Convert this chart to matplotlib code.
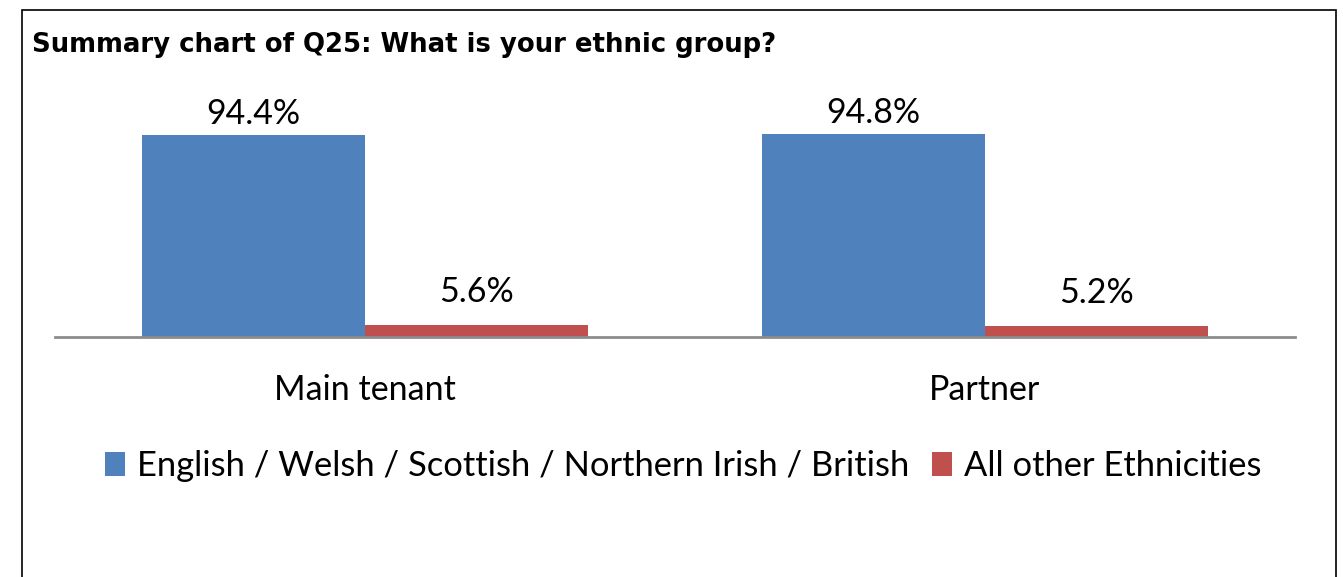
import matplotlib
matplotlib.use("Agg")
import matplotlib.pyplot as plt
from matplotlib.patches import Rectangle
import numpy as np

categories = ["Main tenant", "Partner"]
series_names = ["English / Welsh / Scottish / Northern Irish / British", "All other Ethnicities"]
british = [94.4, 94.8]
other = [5.6, 5.2]
colors = ["#4F81BD", "#C0504D"]
title = "Summary chart of Q25: What is your ethnic group?"

W, H = 1343, 577
fig = plt.figure(figsize=(W / 100, H / 100), dpi=100)
fig.patch.set_facecolor("white")

# outer frame
fig.patches.append(Rectangle((22 / W, -0.05), (1336 - 22) / W, (H - 10) / H + 0.05,
                             transform=fig.transFigure, fill=False, edgecolor="black",
                             linewidth=1.2))

fig.text(32 / W, 1 - 45 / H, title, fontsize=18.7, fontweight="bold",
         family="DejaVu Sans", va="center", ha="left")

ax = fig.add_axes([55 / W, (H - 337) / H, (1295 - 55) / W, 214 / H])
x = np.arange(len(categories))
w = 0.36
b1 = ax.bar(x - w / 2, british, w, color=colors[0], label=series_names[0])
b2 = ax.bar(x + w / 2, other, w, color=colors[1], label=series_names[1])
ax.set_xlim(-0.5, 1.5)
ax.set_ylim(0, 100)

font = "Lato"
fs = 24.5
for bars, vals, off in ((b1, british, 8), (b2, other, 16.5)):
    for r, v in zip(bars, vals):
        ax.annotate(f"{v:.1f}%", (r.get_x() + r.get_width() / 2, v), xytext=(0, off),
                    textcoords="offset points", ha="center", va="baseline",
                    fontsize=fs, family=font, annotation_clip=False)

for s in ["top", "right", "left"]:
    ax.spines[s].set_visible(False)
ax.spines["bottom"].set_color("#8C8C8C")
ax.spines["bottom"].set_linewidth(2)
ax.set_yticks([])
ax.set_xticks(x)
ax.set_xticklabels(categories, fontsize=fs, family=font)
ax.tick_params(axis="x", length=0, pad=27)

leg = fig.legend(handles=[b1, b2], labels=series_names, loc="center",
                 bbox_to_anchor=(683 / W, 1 - 466 / H), ncol=2, frameon=False,
                 prop={"family": font, "size": 24.8}, handlelength=0.59, handleheight=0.68,
                 handletextpad=0.35, columnspacing=0.65)

fig.savefig("out.png", dpi=100)
